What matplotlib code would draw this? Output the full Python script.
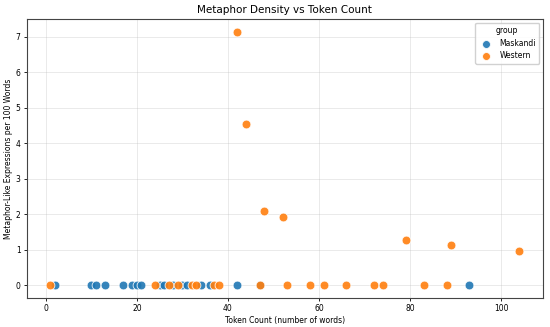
import matplotlib.pyplot as plt

# token counts and metaphor density (per 100 words) by group
maskandi_tokens = [2, 10, 11, 13, 17, 19, 20, 21, 25, 26, 28, 30, 31, 34, 36, 42, 47, 93]
maskandi_density = [0] * len(maskandi_tokens)

western_tokens = [1, 24, 27, 29, 32, 33, 37, 38, 47, 53, 58, 61, 66, 72, 74, 83, 88,
                  42, 44, 48, 52, 79, 89, 104]
western_density = [0] * 17 + [7.14, 4.55, 2.08, 1.92, 1.27, 1.12, 0.96]

BLUE = "#1f77b4"
ORANGE = "#ff7f0e"

fig, ax = plt.subplots(figsize=(5.5, 3.27), dpi=100)

ax.scatter(maskandi_tokens, maskandi_density, s=40, color=BLUE, alpha=0.9,
           edgecolors="white", linewidths=0.6, label="Maskandi", zorder=3)
ax.scatter(western_tokens, western_density, s=40, color=ORANGE, alpha=0.9,
           edgecolors="white", linewidths=0.6, label="Western", zorder=3)

ax.set_title("Metaphor Density vs Token Count", fontsize=7.5, pad=4)
ax.set_xlabel("Token Count (number of words)", fontsize=5.5, labelpad=2)
ax.set_ylabel("Metaphor-Like Expressions per 100 Words", fontsize=5.5, labelpad=2)
ax.tick_params(labelsize=5.5, length=2.5, width=0.6, pad=2)
ax.grid(True, alpha=0.3, linewidth=0.6)
for sp in ax.spines.values():
    sp.set_linewidth(0.8)
    sp.set_color("#444444")

ax.legend(title="group", loc="upper right", fontsize=5.5, title_fontsize=5.5,
          markerscale=0.9, framealpha=0.9)

fig.subplots_adjust(left=0.049, right=0.987, top=0.942, bottom=0.089)
fig.savefig("out.png", dpi=100)
